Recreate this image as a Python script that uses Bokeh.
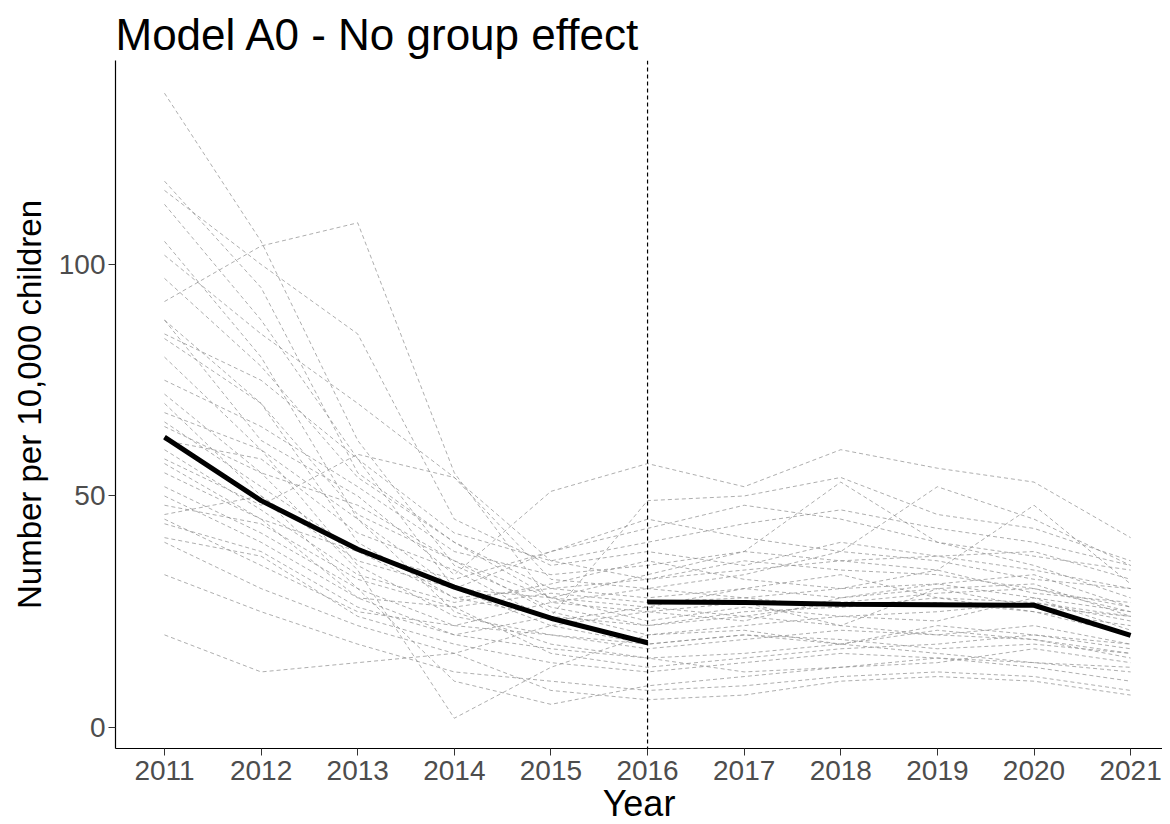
from bokeh.plotting import figure
from bokeh.models import Range1d, Span, FixedTicker
from bokeh.embed import file_html
from bokeh.resources import INLINE

years = [2011, 2012, 2013, 2014, 2015, 2016, 2017, 2018, 2019, 2020, 2021]

# Observed series (one per area), per 10,000 children
area_rates = [
    [137, 105, 62, 35, 26, 22, 24, 22, 20, 19, 16],
    [118, 95, 55, 40, 30, 28, 30, 33, 28, 25, 22],
    [116, 100, 85, 45, 35, 38, 35, 40, 37, 34, 30],
    [113, 88, 58, 30, 22, 18, 20, 18, 21, 19, 15],
    [105, 80, 45, 25, 18, 15, 16, 18, 16, 14, 12],
    [102, 85, 70, 54, 32, 30, 28, 26, 27, 25, 20],
    [92, 104, 109, 55, 27, 25, 27, 22, 30, 26, 24],
    [88, 70, 40, 28, 30, 32, 36, 34, 33, 30, 26],
    [85, 75, 58, 42, 36, 40, 44, 47, 43, 40, 35],
    [80, 60, 35, 24, 20, 17, 19, 21, 20, 22, 18],
    [75, 65, 52, 38, 33, 35, 38, 53, 40, 35, 28],
    [72, 55, 48, 36, 25, 20, 22, 24, 25, 27, 23],
    [68, 60, 45, 30, 28, 26, 30, 28, 31, 33, 26],
    [66, 52, 38, 32, 38, 45, 41, 38, 36, 32, 30],
    [62, 58, 42, 34, 23, 26, 24, 27, 29, 30, 25],
    [58, 48, 59, 54, 36, 32, 34, 36, 34, 29, 27],
    [55, 45, 38, 28, 24, 22, 25, 26, 28, 27, 24],
    [52, 42, 30, 22, 20, 18, 20, 19, 17, 18, 16],
    [50, 40, 28, 26, 16, 13, 15, 17, 18, 20, 17],
    [48, 44, 32, 26, 29, 27, 28, 30, 31, 28, 25],
    [46, 50, 36, 30, 38, 43, 48, 45, 40, 37, 34],
    [44, 38, 26, 20, 17, 15, 12, 13, 15, 14, 13],
    [41, 37, 24, 18, 14, 12, 14, 16, 15, 13, 10],
    [40, 30, 22, 16, 22, 25, 23, 28, 30, 31, 24],
    [33, 25, 18, 12, 10, 8, 9, 11, 12, 11, 8],
    [20, 12, 14, 16, 8, 6, 7, 10, 11, 10, 7],
    [88, 62, 50, 33, 51, 57, 52, 60, 56, 53, 41],
    [65, 55, 34, 2, 13, 20, 21, 18, 22, 20, 18],
    [70, 50, 30, 10, 5, 9, 11, 13, 14, 17, 14],
    [57, 45, 28, 20, 24, 49, 50, 54, 46, 43, 36],
    [60, 47, 33, 27, 31, 36, 32, 30, 34, 48, 31],
    [45, 35, 25, 22, 27, 30, 33, 38, 52, 45, 35],
    [97, 78, 54, 40, 28, 23, 26, 24, 23, 28, 21],
    [84, 70, 46, 36, 28, 33, 38, 36, 37, 38, 32],
]

# Model fit, two segments split at 2016
fit_years_pre = [2011, 2012, 2013, 2014, 2015, 2016]
fit_pre = [62.7, 49.0, 38.5, 30.3, 23.6, 18.3]
fit_years_post = [2016, 2017, 2018, 2019, 2020, 2021]
fit_post = [27.1, 27.0, 26.6, 26.5, 26.4, 19.9]

break_year = 2016
y_ticks = [0, 50, 100]

p = figure(frame_width=1047, frame_height=688, output_backend="svg", toolbar_location=None,
           title="Model A0 - No group effect",
           x_range=Range1d(2010.493, 2021.33), y_range=Range1d(-4.54, 144.06),
           min_border_left=115, min_border_right=0, min_border_top=60,
           min_border_bottom=72)

for series in area_rates:
    p.line(years, series, line_color="#8c8c8c", line_alpha=0.7,
           line_width=1, line_dash="4 3")

p.line(fit_years_pre, fit_pre, line_color="black", line_width=5)
p.line(fit_years_post, fit_post, line_color="black", line_width=5)

p.add_layout(Span(location=break_year, dimension="height", line_color="black",
                  line_width=1.2, line_dash="4 3"))

p.title.text_font = "Liberation Sans"
p.title.text_font_size = "44px"
p.title.text_font_style = "normal"
p.title.text_color = "black"
p.title.offset = 0
p.title.standoff = 4

p.xgrid.visible = False
p.ygrid.visible = False
p.outline_line_color = None
p.background_fill_color = "white"
p.border_fill_color = "white"

for ax in (p.xaxis[0], p.yaxis[0]):
    ax.axis_line_color = "black"
    ax.axis_line_width = 1.2
    ax.major_tick_line_color = "#333333"
    ax.major_tick_in = 0
    ax.major_tick_out = 7
    ax.minor_tick_line_color = None
    ax.major_label_text_font = "Liberation Sans"
    ax.major_label_text_font_size = "28px"
    ax.major_label_text_color = "#4D4D4D"
    ax.axis_label_text_font = "Liberation Sans"
    ax.axis_label_text_font_style = "normal"
    ax.axis_label_text_color = "black"

p.xaxis.ticker = FixedTicker(ticks=years)
p.yaxis.ticker = FixedTicker(ticks=y_ticks)
p.xaxis.axis_label = "Year"
p.yaxis.axis_label = "Number per 10,000 children"
p.xaxis.axis_label_text_font_size = "36px"
p.yaxis.axis_label_text_font_size = "33px"
p.xaxis.major_label_standoff = 5
p.yaxis.major_label_standoff = 3
p.xaxis.axis_label_standoff = 0
p.yaxis.axis_label_standoff = 8

open("out.html", "w").write(file_html(p, INLINE))
